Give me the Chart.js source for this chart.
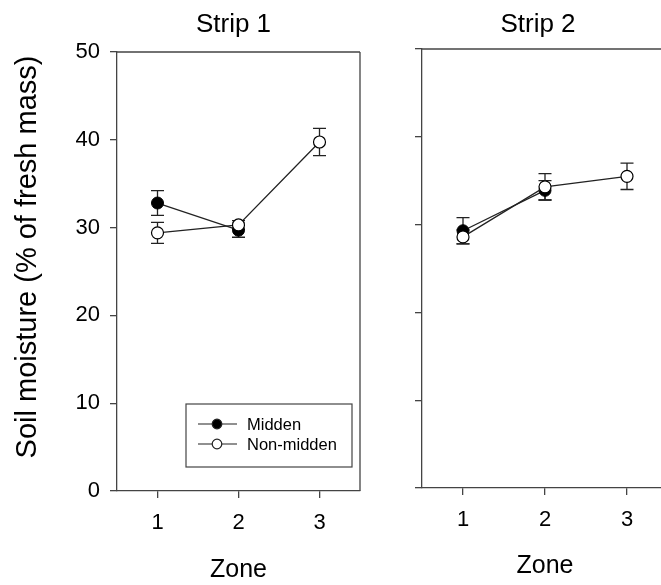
<!DOCTYPE html>
<html>
<head>
<title>Soil moisture</title>
<style>
body { margin: 0; background: #fff; overflow: hidden; width: 661px; height: 585px; position: relative; }
canvas { position: absolute; top: 0; }
#strip1 { left: 0; }
#strip2 { left: 380px; }
</style>
</head>
<body>
<canvas id="strip1" width="400" height="585"></canvas>
<canvas id="strip2" width="320" height="585"></canvas>

<script src="https://cdn.jsdelivr.net/npm/chart.js@4.4.1/dist/chart.umd.min.js"></script>
<script>
// values
const zones = ['1', '2', '3'];
const yTicks = [0, 10, 20, 30, 40, 50];
const yTitle = 'Soil moisture (% of fresh mass)';

const strip1Midden = [32.8, 29.7, null];
const strip1MiddenErr = [1.4, 0.8, null];
const strip1Non = [29.4, 30.3, 39.75];
const strip1NonErr = [1.2, 0.5, 1.55];

const strip2Midden = [29.3, 33.9, null];
const strip2MiddenErr = [1.5, 1.1, null];
const strip2Non = [28.6, 34.3, 35.5];
const strip2NonErr = [0.8, 1.5, 1.5];

const ink = '#222';
const axisInk = '#444';
const fontFam = '"Liberation Sans", Arial, sans-serif';

// error bars, drawn under the points
const errorBars = {
  id: 'errorBars',
  beforeDatasetsDraw(chart) {
    const c = chart.ctx, y = chart.scales.y;
    c.save();
    c.strokeStyle = ink;
    c.lineWidth = 1.3;
    chart.data.datasets.forEach((ds, i) => {
      const meta = chart.getDatasetMeta(i);
      ds.data.forEach((v, j) => {
        if (v == null) return;
        const x = meta.data[j].x;
        const top = y.getPixelForValue(v + ds.err[j]);
        const bot = y.getPixelForValue(v - ds.err[j]);
        c.beginPath();
        c.moveTo(x, top); c.lineTo(x, bot);
        c.moveTo(x - 6.5, top); c.lineTo(x + 6.5, top);
        c.moveTo(x - 6.5, bot); c.lineTo(x + 6.5, bot);
        c.stroke();
      });
    });
    c.restore();
  }
};

// frame lines, panel title, y title
const frame = {
  id: 'frame',
  afterDraw(chart, args, opts) {
    const c = chart.ctx, a = chart.chartArea;
    c.save();
    c.strokeStyle = axisInk;
    c.lineWidth = 1.3;
    c.beginPath();
    c.moveTo(a.left, a.top); c.lineTo(a.right, a.top);
    if (opts.right) { c.moveTo(a.right, a.top); c.lineTo(a.right, a.bottom); }
    c.stroke();
    c.fillStyle = '#000';
    c.font = '26px ' + fontFam;
    c.textAlign = 'center';
    c.textBaseline = 'alphabetic';
    c.fillText(opts.title, (a.left + a.right) / 2 + opts.dx, opts.ty);
    if (opts.yTitle) {
      c.translate(28, 257);
      c.rotate(-Math.PI / 2);
      c.font = '29px ' + fontFam;
      c.textBaseline = 'middle';
      c.fillText(opts.yTitle, 0, 0);
    }
    c.restore();
  }
};

// boxed legend in the lower right of strip 1
const boxLegend = {
  id: 'boxLegend',
  afterDraw(chart, args, opts) {
    if (!opts.show) return;
    const c = chart.ctx, a = chart.chartArea;
    const w = 166, h = 63;
    const x0 = a.right - 8 - w, y0 = a.bottom - 24 - h;
    c.save();
    c.strokeStyle = axisInk;
    c.lineWidth = 1.2;
    c.strokeRect(x0, y0, w, h);
    [0, 1].forEach((k) => {
      const ds = chart.data.datasets[k];
      const ry = y0 + 20 + k * 20;
      c.strokeStyle = ink;
      c.beginPath();
      c.moveTo(x0 + 12, ry); c.lineTo(x0 + 51, ry);
      c.stroke();
      c.beginPath();
      c.arc(x0 + 31, ry, 4.8, 0, Math.PI * 2);
      c.fillStyle = ds.pointBackgroundColor;
      c.fill();
      c.stroke();
      c.fillStyle = '#000';
      c.font = '16.5px ' + fontFam;
      c.textAlign = 'left';
      c.textBaseline = 'middle';
      c.fillText(ds.label, x0 + 61, ry + 1);
    });
    c.restore();
  }
};

function makeDatasets(mid, midErr, non, nonErr) {
  return [{
    label: 'Midden', data: mid, err: midErr, order: 1,
    borderColor: ink, borderWidth: 1.3,
    pointBackgroundColor: '#000', pointBorderColor: '#000',
    pointRadius: 6, pointBorderWidth: 1, spanGaps: false
  }, {
    label: 'Non-midden', data: non, err: nonErr, order: 0,
    borderColor: ink, borderWidth: 1.3,
    pointBackgroundColor: '#fff', pointBorderColor: '#000',
    pointRadius: 6, pointBorderWidth: 1.2
  }];
}

function makeChart(id, sets, cfg) {
  return new Chart(document.getElementById(id), {
    type: 'line',
    data: { labels: zones, datasets: sets },
    options: {
      responsive: false,
      animation: false,
      layout: { padding: { top: cfg.top, right: cfg.right, left: 0, bottom: 0 } },
      plugins: {
        legend: { display: false },
        tooltip: { enabled: false },
        frame: { title: cfg.title, dx: cfg.dx, ty: 32, right: cfg.frameRight, yTitle: cfg.yLabels ? yTitle : null },
        boxLegend: { show: cfg.legend }
      },
      scales: {
        x: {
          type: 'category',
          offset: true,
          grid: { display: true, drawOnChartArea: false, tickLength: 7, color: axisInk, lineWidth: 1.3 },
          border: { color: axisInk, width: 1.3 },
          ticks: { color: '#000', font: { family: fontFam, size: 22 }, padding: 12 },
          title: { display: true, text: 'Zone', color: '#000', font: { family: fontFam, size: 25 }, padding: { top: 0, bottom: cfg.zonePad } },
          afterFit(s) { s.height = cfg.xh; }
        },
        y: {
          min: 0, max: 50,
          afterBuildTicks(s) { s.ticks = yTicks.map(v => ({ value: v })); },
          grid: { display: true, drawOnChartArea: false, tickLength: 7, color: axisInk, lineWidth: 1.3 },
          border: { color: axisInk, width: 1.3 },
          ticks: { display: cfg.yLabels, color: '#000', font: { family: fontFam, size: 22 }, padding: 10 },
          afterFit(s) { s.width = cfg.yw; }
        }
      }
    },
    plugins: [errorBars, frame, boxLegend]
  });
}

makeChart('strip1', makeDatasets(strip1Midden, strip1MiddenErr, strip1Non, strip1NonErr), {
  top: 52, right: 40, xh: 94, yw: 117, yLabels: true, zonePad: 0,
  title: 'Strip 1', dx: -5, frameRight: true, legend: true
});

makeChart('strip2', makeDatasets(strip2Midden, strip2MiddenErr, strip2Non, strip2NonErr), {
  top: 49, right: 32, xh: 97, yw: 42, yLabels: false, zonePad: 4,
  title: 'Strip 2', dx: -7, frameRight: false, legend: false
});
</script>
</body>
</html>
